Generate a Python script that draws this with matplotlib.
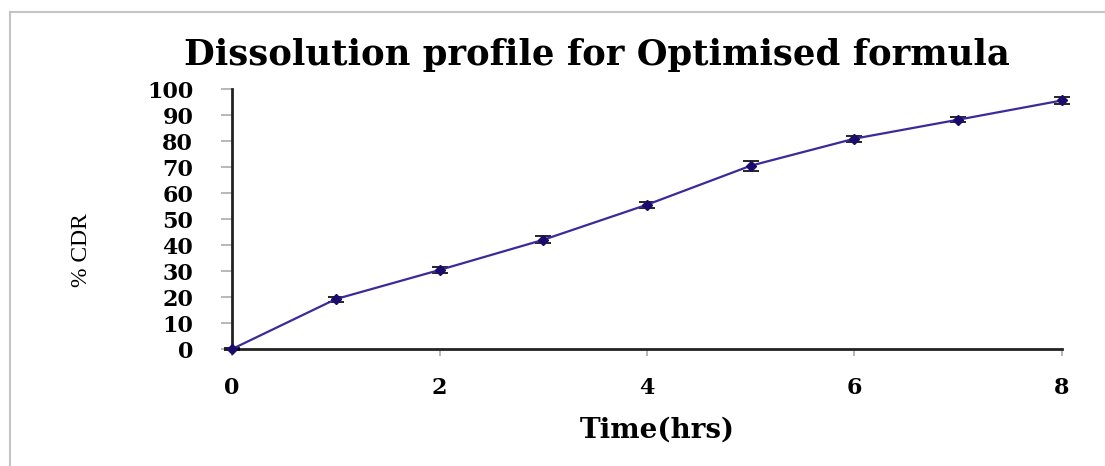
import numpy as np
import matplotlib
matplotlib.use('Agg')
import matplotlib.pyplot as plt
from matplotlib.lines import Line2D

# dissolution data: time (hrs) vs cumulative drug release (%)
time_hrs = [0, 1, 2, 3, 4, 5, 6, 7, 8]
cdr = [0, 19.2, 30.4, 42.0, 55.5, 70.5, 80.9, 88.2, 95.6]
cdr_err = [0.5, 1.0, 1.2, 1.4, 1.2, 2.0, 1.2, 1.0, 1.2]

xticks = [0, 2, 4, 6, 8]
yticks = list(range(0, 101, 10))

plt.rcParams['font.family'] = ['DejaVu Serif']

fig = plt.figure(figsize=(11.05, 4.66), dpi=100)
ax = fig.add_axes([0.21, 0.251, 0.751, 0.558])

ax.errorbar(time_hrs, cdr, yerr=cdr_err, color='#3b2a9a', lw=1.6,
            marker='D', ms=5.5, mfc='#1c0a6e', mec='#1c0a6e',
            ecolor='black', elinewidth=1.2, capsize=6, capthick=1.2,
            clip_on=False, zorder=3)

ax.set_xlim(0, 8)
ax.set_ylim(0, 100)
ax.set_xticks(xticks)
ax.set_yticks(yticks)
ax.spines['top'].set_visible(False)
ax.spines['right'].set_visible(False)
for s in ('left', 'bottom'):
    ax.spines[s].set_linewidth(2)
    ax.spines[s].set_color('#222222')
ax.tick_params(axis='y', direction='out', length=8, width=1.2, color='#aaaaaa',
               pad=20, labelsize=16)
ax.tick_params(axis='x', direction='out', length=5, width=1.2, color='#aaaaaa',
               pad=15, labelsize=16)
for lab in ax.get_xticklabels() + ax.get_yticklabels():
    lab.set_fontweight('bold')

fig.text(0.54, 0.882, 'Dissolution profile for Optimised formula',
         ha='center', va='center', fontsize=25.5, fontweight='bold')
fig.text(0.595, 0.077, 'Time(hrs)', ha='center', va='center',
         fontsize=20, fontweight='bold')
fig.text(0.074, 0.463, '% CDR', ha='center', va='center',
         fontsize=17, rotation=90, family='Liberation Serif')

# light grey frame around the chart area
fig.add_artist(Line2D([0.009, 0.009], [0.0, 0.974], color='#c4c4c4', lw=1.5,
                      transform=fig.transFigure))
fig.add_artist(Line2D([0.009, 1.0], [0.974, 0.974], color='#c4c4c4', lw=1.5,
                      transform=fig.transFigure))

fig.savefig('out.png', dpi=100)
